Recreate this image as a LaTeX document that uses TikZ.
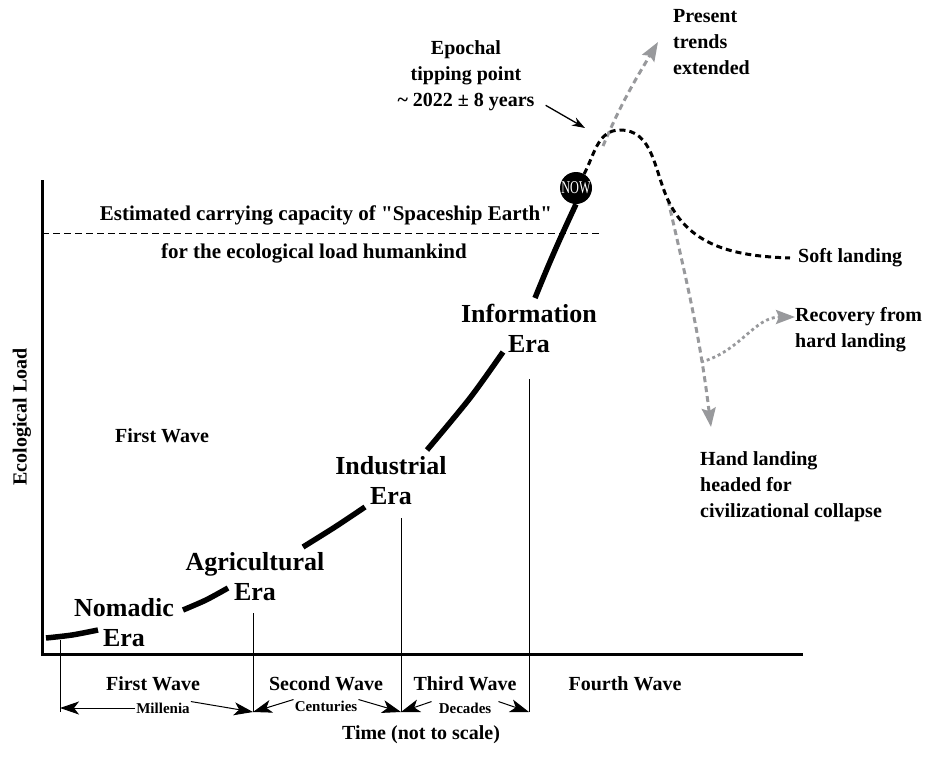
\documentclass[tikz,border=0pt]{standalone}
\usepackage{fontspec}
\setmainfont{Liberation Serif}
\usetikzlibrary{positioning,arrows.meta}
\definecolor{trendgray}{RGB}{152,153,156}
\newcommand\straightdq{\XeTeXglyph\XeTeXcharglyph"22\relax}

\begin{document}
\begin{tikzpicture}[x=1pt,y=-1pt,
  era/.style={align=center, font=\fontsize{26}{30}\selectfont\bfseries, inner sep=0pt},
  lbl/.style={font=\fontsize{20}{26}\selectfont\bfseries, inner sep=0pt},
  spanlbl/.style={font=\fontsize{15}{18}\selectfont\bfseries, inner sep=1pt},
  divider/.style={line width=1pt},
  spanarr/.style={line width=1pt, -{Stealth[length=19pt,width=13pt,inset=5pt]}},
  loadcurve/.style={line width=5.5pt},
  scen/.style={line width=3pt, dash pattern=on 6pt off 4pt},
  recov/.style={line width=2.8pt, dash pattern=on 3pt off 3pt, trendgray},
  graytip/.style={-{Stealth[length=19pt,width=14pt,inset=3pt]}}
]
\useasboundingbox (0,0) rectangle (930,761);

% axes and capacity line
\draw[line width=3pt] (42,180) -- (42,654) -- (803,654);
\draw[line width=0.9pt, dash pattern=on 7pt off 4pt] (42,233) -- (600,233);
\node[lbl, rotate=90] (yl) at (22,417) {Ecological Load};
\node[lbl] (fw) at (162,436) {First Wave};
\node[lbl, font=\fontsize{21}{26}\selectfont\bfseries] (cap1) at (326,215)
  {Estimated carrying capacity of \straightdq Spaceship Earth\straightdq};
\node[lbl, font=\fontsize{21}{26}\selectfont\bfseries] (cap2) at (314,253) {for the ecological load humankind};

% eras
\node[era] (nom) at (124,623) {Nomadic\\Era};
\node[era] (agr) at (255,577) {Agricultural\\Era};
\node[era] (ind) at (391,481) {Industrial\\Era};
\node[era] (inf) at (529,328) {Information\\Era};
\node[circle, fill=black, minimum size=32pt, inner sep=0pt, text=white,
  font=\fontsize{18}{18}\selectfont] (now) at (576,188) {\scalebox{0.68}[1]{NOW}};

% ecological load curve
\draw[loadcurve] plot[smooth] coordinates {(46,638) (72,635) (98,630)};
\draw[loadcurve] plot[smooth] coordinates {(183,610) (206,600) (228,588)};
\draw[loadcurve] plot[smooth] coordinates {(303,547) (335,527) (365,507)};
\draw[loadcurve] plot[smooth] coordinates {(427,450) (470,398) (503,352)};
\draw[loadcurve] (535,298) to[out=68,in=245] (now.south);

% wave dividers
\coordinate (b1) at (60,712);
\coordinate (b2) at (253,712);
\coordinate (b3) at (401,712);
\coordinate (b4) at (529,712);
\draw[divider] (b1) -- ++(0,-72);
\draw[divider] (b2) -- ++(0,-99);
\draw[divider] (b3) -- ++(0,-194);
\draw[divider] (b4) -- ++(0,-333);

\node[lbl] (w1) at (153,684) {First Wave};
\node[lbl] (w2) at (326,684) {Second Wave};
\node[lbl] (w3) at (465,684) {Third Wave};
\node[lbl] (w4) at (625,684) {Fourth Wave};

\node[spanlbl] (mil) at (163,708) {Millenia};
\node[spanlbl] (cen) at (326,706) {Centuries};
\node[spanlbl] (dec) at (465,708) {Decades};
\draw[spanarr] (mil.west) -- (mil.west -| b1);
\draw[spanarr] (mil.north east) -- (b2);
\draw[spanarr] (cen.north west) -- (b2);
\draw[spanarr] (cen.north east) -- (b3);
\draw[spanarr] ([xshift=-6pt]dec.north west) -- (b3);
\draw[spanarr] ([xshift=6pt]dec.north east) -- (b4);

\node[lbl] (tl) at (421,735) {Time (not to scale)};

% scenarios after now
\node[lbl, align=center] (epoch) at (466,76) {Epochal\\tipping point\\\textasciitilde{} 2022 ± 8 years};
\coordinate (tip) at (585,128);
\draw[line width=1.3pt, -{Stealth[length=13pt,width=9pt]}] ([shift={(11pt,6pt)}]epoch.south east) -- (tip);

\node[lbl, anchor=west, align=left] (pres) at (673,42) {Present\\trends\\extended};
\node[lbl, anchor=west] (soft) at (798,258) {Soft landing};
\node[lbl, anchor=west, align=left] (rec) at (795,330) {Recovery from\\hard landing};
\node[lbl, anchor=west, align=left] (hard) at (700,487) {Hand landing\\headed for\\civilizational collapse};

\coordinate (fork) at (603,146);
\coordinate (peak) at (620,130);
\coordinate (drop) at (668,200);
\coordinate (rfork) at (701,362);
\coordinate (htip) at (711,427);

\draw[scen, trendgray, graytip] (fork) to[out=67,in=239] ([xshift=-15pt]pres.west);
\draw[scen, trendgray, graytip] (drop) to[out=-77,in=97] (htip);
\draw[recov, graytip] (rfork) to[out=15,in=180] ([yshift=13pt]rec.west);
\draw[scen] (now.60) to[out=62,in=180] (peak) to[out=0,in=115] (drop) to[out=-65,in=178] ([xshift=-8pt]soft.west);
\end{tikzpicture}
\end{document}
